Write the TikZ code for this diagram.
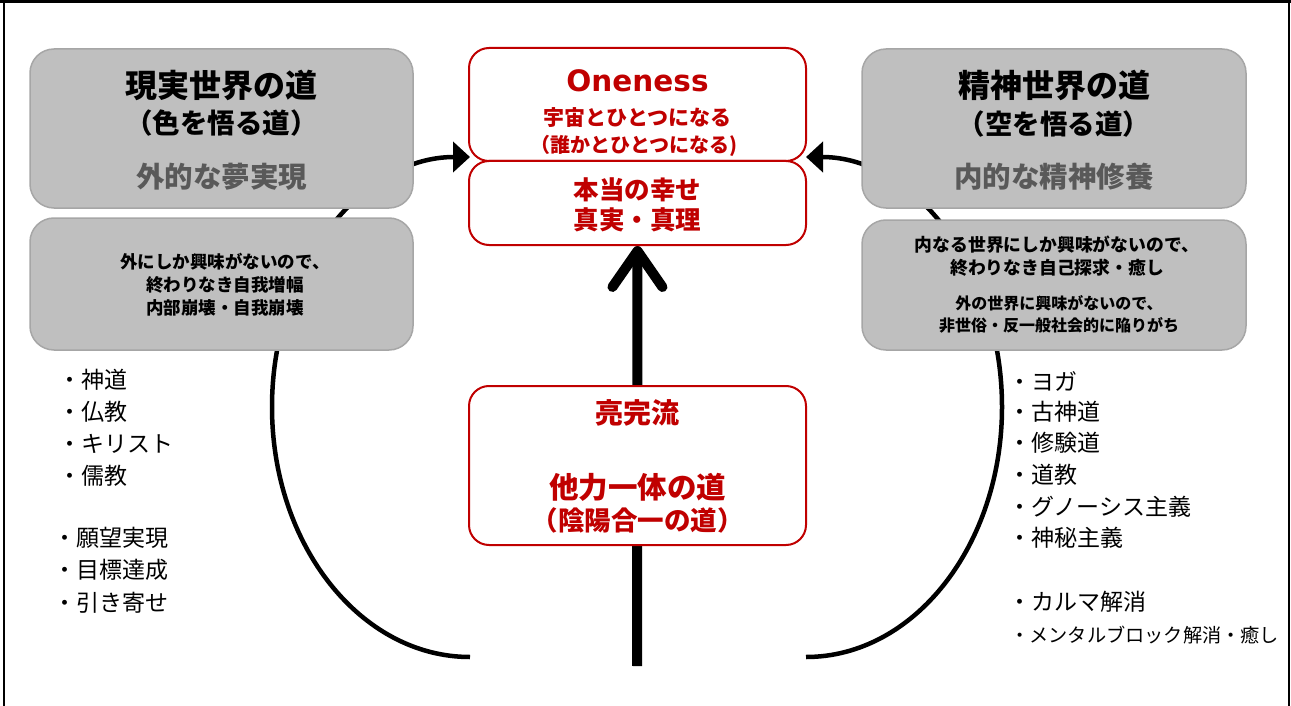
\documentclass[tikz,border=0pt]{standalone}
\usepackage{fontspec}
\setmainfont{Noto Sans CJK JP}
\newfontfamily\latinbold{DejaVu Sans}
\usetikzlibrary{arrows.meta}
\pgfdeclarelayer{background}
\pgfsetlayers{background,main}
\definecolor{boxgray}{HTML}{BFBFBF}
\definecolor{boxedge}{HTML}{A6A6A6}
\definecolor{darkred}{HTML}{C00000}
\definecolor{subgray}{HTML}{595959}
\begin{document}
\begin{tikzpicture}[x=1pt,y=-1pt,
  graybox/.style={draw=boxedge, line width=1.5pt, fill=boxgray, rounded corners=24pt, inner sep=0pt},
  redbox/.style={draw=darkred, line width=2pt, fill=white, rounded corners=20pt, inner sep=0pt},
  btxt/.style={inner sep=0pt, font=\bfseries\fontsize{#1}{#1}\selectfont},
  rtxt/.style={inner sep=0pt, font=\fontsize{#1}{#1}\selectfont, anchor=west},
  curve/.style={line width=4.5pt, -{Triangle[length=17pt,width=30pt]}},
  bigarrow/.style={line width=10pt, -{Straight Barb[length=36pt,width=50pt,round]}}
]
\useasboundingbox (0,0) rectangle (1291,706);
% frame
\draw[line width=3.5pt] (0,1.75) -- (1291,1.75);
\draw[line width=2pt] (3.7,0) -- (3.7,706);
\draw[line width=1.5pt] (1289,0) -- (1289,706);

% boxes
\node[graybox, minimum width=383pt, minimum height=159pt] (lt) at (221.5,128.5) {};
\node[graybox, minimum width=383pt, minimum height=132pt] (lb) at (221.5,284) {};
\node[graybox, minimum width=384pt, minimum height=159pt] (rt) at (1054,128.5) {};
\node[graybox, minimum width=384pt, minimum height=130pt] (rb) at (1054,285) {};
\node[redbox, minimum width=337pt, minimum height=113pt] (one) at (637.5,104.5) {};
\node[redbox, minimum width=337pt, minimum height=84pt] (happy) at (637.5,203) {};
\node[redbox, minimum width=337pt, minimum height=159pt] (ryo) at (637.5,465.5) {};

% connectors (behind boxes)
\begin{pgfonlayer}{background}
\coordinate (lbot) at (470,657);
\coordinate (rbot) at (806,657);
\coordinate (abase) at (637,666);
\draw[curve] (lbot) arc[start angle=90, end angle=270, x radius=198, y radius=250];
\draw[curve] (rbot) arc[start angle=90, end angle=-90, x radius=196, y radius=250];
\draw[bigarrow] (abase) -- (happy.south);
\end{pgfonlayer}

% left top box text
\node[btxt=32] (lt1) at (221.5,85) {現実世界の道};
\node[btxt=27.5] (lt2) at (221.5,123) {（色を悟る道）};
\node[btxt=28.5, text=subgray] (lt3) at (221.5,177) {外的な夢実現};
% left lower box text
\node[btxt=17.5] (lb1) at (225,262) {外にしか興味がないので、};
\node[btxt=17.5] (lb2) at (225,285) {終わりなき自我増幅};
\node[btxt=17.5] (lb3) at (225,308) {内部崩壊・自我崩壊};
% right top box text
\node[btxt=32] (rt1) at (1054,85) {精神世界の道};
\node[btxt=27.5] (rt2) at (1054,124) {（空を悟る道）};
\node[btxt=28.5, text=subgray] (rt3) at (1054,177) {内的な精神修養};
% right lower box text
\node[btxt=17.8] (rb1) at (1057,245) {内なる世界にしか興味がないので、};
\node[btxt=17.8] (rb2) at (1057,268) {終わりなき自己探求・癒し};
\node[btxt=16] (rb3) at (1059,303) {外の世界に興味がないので、};
\node[btxt=16] (rb4) at (1059,325) {非世俗・反一般社会的に陥りがち};
% center top
\node[inner sep=0pt, text=darkred, font=\latinbold\bfseries\fontsize{29.5}{29.5}\selectfont] (o1) at (637.5,81) {Oneness};
\node[btxt=21, text=darkred] (o2) at (637.5,118) {宇宙とひとつになる};
\node[btxt=20, text=darkred] (o3) at (634,146) {（誰かとひとつになる)};
\node[btxt=25.5, text=darkred] (h1) at (637.5,190) {本当の幸せ};
\node[btxt=25.5, text=darkred] (h2) at (637.5,220) {真実・真理};
% center lower
\node[btxt=28, text=darkred] (r1) at (637.5,413) {亮完流};
\node[btxt=29.5, text=darkred] (r2) at (637.5,487) {他力一体の道};
\node[btxt=26.5, text=darkred] (r3) at (637.5,520) {（陰陽合一の道）};

% left list
\node[rtxt=23] (l1) at (58,380) {・神道};
\node[rtxt=23] (l2) at (58,412) {・仏教};
\node[rtxt=23] (l3) at (58,444) {・キリスト};
\node[rtxt=23] (l4) at (58,476) {・儒教};
\node[rtxt=23] (l5) at (53,538) {・願望実現};
\node[rtxt=23] (l6) at (53,570) {・目標達成};
\node[rtxt=23] (l7) at (53,603) {・引き寄せ};
% right list
\node[rtxt=23] (m1) at (1008,381) {・ヨガ};
\node[rtxt=23] (m2) at (1008,412) {・古神道};
\node[rtxt=23] (m3) at (1008,443) {・修験道};
\node[rtxt=23] (m4) at (1008,475) {・道教};
\node[rtxt=23] (m5) at (1008,507) {・グノーシス主義};
\node[rtxt=23] (m6) at (1008,538) {・神秘主義};
\node[rtxt=23] (m7) at (1008,602) {・カルマ解消};
\node[rtxt=19.2] (m8) at (1010,635) {・メンタルブロック解消・癒し};
\end{tikzpicture}
\end{document}
